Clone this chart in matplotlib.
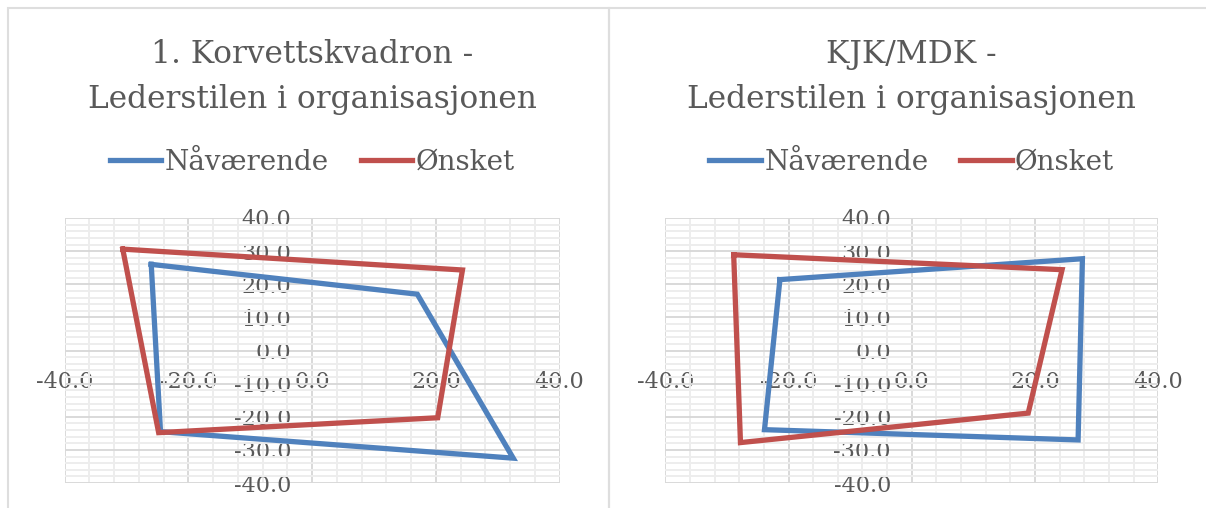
import matplotlib
matplotlib.use("Agg")
import matplotlib.pyplot as plt
from matplotlib.patches import Rectangle
from matplotlib.ticker import MultipleLocator, FormatStrFormatter

# Competing-values profile: corner points (clan, adhocracy, market, hierarchy), closed loop
korv_naa_x = [-26.0, 17.0, 32.5, -24.5, -26.0]
korv_naa_y = [26.0, 17.0, -32.5, -24.5, 26.0]
korv_onsk_x = [-30.6, 24.3, 20.3, -24.8, -30.6]
korv_onsk_y = [30.6, 24.3, -20.3, -24.8, 30.6]

kjk_naa_x = [-21.4, 27.7, 27.0, -23.9, -21.4]
kjk_naa_y = [21.4, 27.7, -27.0, -23.9, 21.4]
kjk_onsk_x = [-28.9, 24.4, 18.9, -27.8, -28.9]
kjk_onsk_y = [28.9, 24.4, -18.9, -27.8, 28.9]

titles = ["1. Korvettskvadron -\nLederstilen i organisasjonen",
          "KJK/MDK -\nLederstilen i organisasjonen"]
series_names = ["Nåværende", "Ønsket"]

BLUE = "#4F81BD"
RED = "#C0504D"
GRID_MAJOR = "#D9D9D9"
GRID_MINOR = "#EDEDED"
TEXT = "#595959"
SERIF = ["DejaVu Serif"]

W, H = 1206, 508
fig = plt.figure(figsize=(W / 100, H / 100), dpi=100)
fig.patch.set_facecolor("white")

# chart-area frames
for x0, x1 in [(8, 609), (609, 1212)]:
    fig.patches.append(Rectangle((x0 / W, -0.05), (x1 - x0) / W, (H - 8) / H + 0.05,
                                 transform=fig.transFigure, fill=False,
                                 edgecolor="#DEDEDE", linewidth=1.5))

panels = [
    (64.6, 559.6, titles[0], (korv_naa_x, korv_naa_y), (korv_onsk_x, korv_onsk_y)),
    (665.3, 1158.2, titles[1], (kjk_naa_x, kjk_naa_y), (kjk_onsk_x, kjk_onsk_y)),
]

for left, right, title, naa, onsk in panels:
    ax = fig.add_axes([left / W, (H - 483) / H, (right - left) / W, 265 / H])
    ax.set_xlim(-40, 40)
    ax.set_ylim(-40, 40)
    ax.xaxis.set_major_locator(MultipleLocator(20))
    ax.xaxis.set_minor_locator(MultipleLocator(4))
    ax.yaxis.set_major_locator(MultipleLocator(10))
    ax.yaxis.set_minor_locator(MultipleLocator(2))
    ax.xaxis.set_major_formatter(FormatStrFormatter("%.1f"))
    ax.yaxis.set_major_formatter(FormatStrFormatter("%.1f"))
    ax.grid(which="major", color=GRID_MAJOR, linewidth=1.4)
    ax.grid(which="minor", color=GRID_MINOR, linewidth=1.4)
    ax.set_axisbelow(True)
    for s in ["top", "right"]:
        ax.spines[s].set_visible(False)
    ax.spines["left"].set_position(("data", 0))
    ax.spines["bottom"].set_position(("data", 0))
    ax.spines["left"].set_visible(False)
    ax.spines["bottom"].set_visible(False)
    ax.tick_params(which="both", length=0)
    ax.tick_params(axis="x", pad=15, labelsize=16, labelcolor=TEXT)
    ax.tick_params(axis="y", pad=15, labelsize=16, labelcolor=TEXT)
    for lab in ax.get_xticklabels() + ax.get_yticklabels():
        lab.set_fontfamily(SERIF)

    ax.plot(naa[0], naa[1], color=BLUE, lw=3.8, solid_joinstyle="miter",
            label=series_names[0], zorder=3, clip_on=False)
    ax.plot(onsk[0], onsk[1], color=RED, lw=3.8, solid_joinstyle="miter",
            label=series_names[1], zorder=3, clip_on=False)

    cx = (left + right) / 2 / W
    fig.text(cx, 1 - 77 / H, title, ha="center", va="center", fontsize=22.5,
             family=SERIF, color=TEXT, linespacing=1.55)
    fig.legend(*ax.get_legend_handles_labels(), loc="center",
               bbox_to_anchor=(cx, 1 - 162 / H), ncol=2, frameon=False,
               prop={"family": SERIF, "size": 20}, labelcolor=TEXT,
               handlelength=1.85, handletextpad=0.12, columnspacing=1.15)

fig.savefig("out.png", dpi=100, facecolor="white")
